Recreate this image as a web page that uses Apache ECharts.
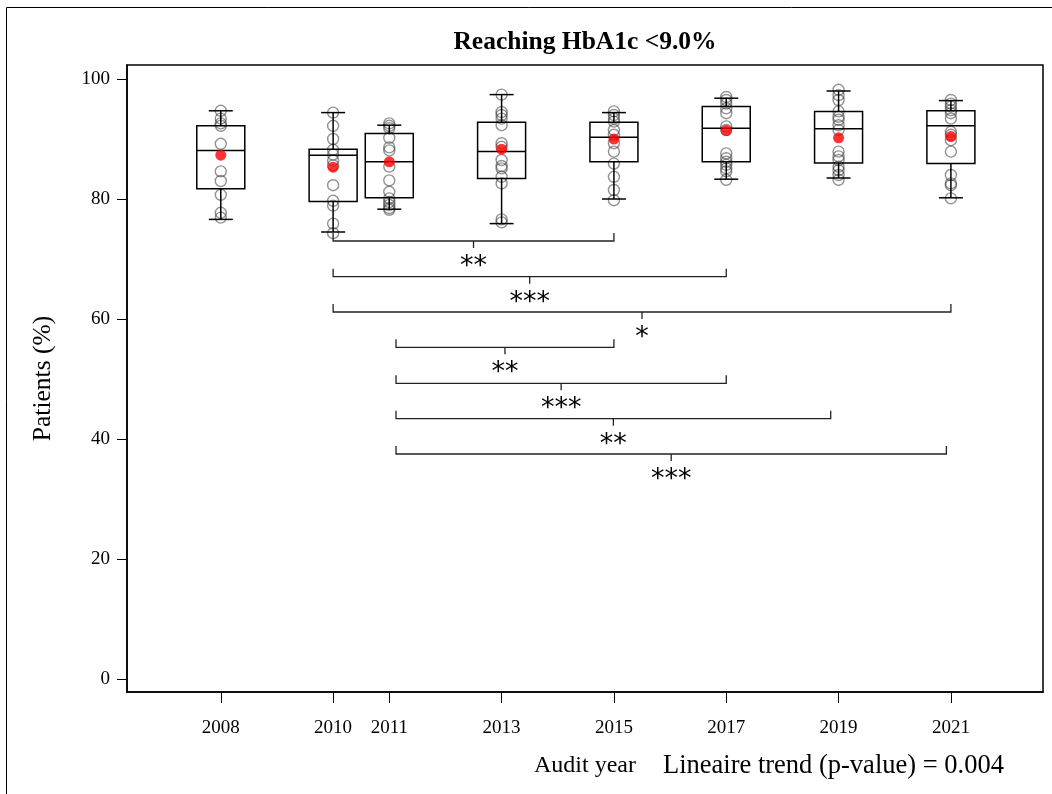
<!DOCTYPE html>
<html>
<head>
<meta charset="utf-8">
<script src="https://cdn.jsdelivr.net/npm/echarts@6/dist/echarts.min.js"></script>
<style>html,body{margin:0;padding:0;background:#fff}#chart{width:1052px;height:794px}</style>
</head>
<body>
<div id="chart"></div>
<script>
// ---- data ----
const years = [2008, 2010, 2011, 2013, 2015, 2017, 2019, 2021];
const whiskerLow  = [76.6, 74.5, 78.3, 75.9, 80.0, 83.3, 83.5, 80.2];
const quart1      = [81.7, 79.6, 80.2, 83.4, 86.2, 86.2, 86.0, 85.9];
const medians     = [88.1, 87.3, 86.2, 87.9, 90.3, 91.8, 91.7, 92.2];
const quart3      = [92.2, 88.3, 90.9, 92.8, 92.8, 95.4, 94.6, 94.7];
const whiskerHigh = [94.7, 94.4, 92.3, 97.4, 94.4, 96.8, 98.0, 96.4];
const means       = [87.3, 85.3, 86.2, 88.3, 90.0, 91.4, 90.2, 90.4];

const pts2008 = [94.7, 93.4, 92.6, 92.2, 89.2, 84.6, 83.0, 80.7, 77.7, 76.9];
const pts2010 = [94.4, 92.2, 90.0, 88.2, 87.4, 86.4, 85.6, 82.3, 79.7, 78.9, 75.9, 74.3];
const pts2011 = [92.6, 92.2, 91.8, 90.2, 88.6, 88.1, 85.4, 83.1, 81.2, 80.1, 79.5, 79.0, 78.5, 78.2];
const pts2013 = [97.4, 94.5, 94.0, 93.4, 92.3, 89.3, 88.7, 86.5, 85.5, 85.1, 83.7, 82.6, 76.6, 76.1];
const pts2015 = [94.6, 94.0, 93.4, 92.9, 91.5, 90.7, 89.3, 87.9, 85.9, 83.7, 81.5, 79.8];
const pts2017 = [97.0, 96.5, 95.9, 95.1, 94.3, 92.1, 91.5, 87.6, 86.8, 86.2, 85.7, 85.1, 84.6, 83.2];
const pts2019 = [98.2, 97.3, 96.5, 94.6, 93.7, 93.2, 92.3, 91.5, 87.9, 87.1, 86.5, 85.4, 84.8, 84.0, 83.2];
const pts2021 = [96.5, 95.9, 95.4, 94.8, 94.3, 93.4, 91.2, 90.7, 89.8, 87.9, 84.0, 82.6, 82.3, 80.1];
const pointsByYear = [pts2008, pts2010, pts2011, pts2013, pts2015, pts2017, pts2019, pts2021];

// significance brackets (from year, to year, height in %)
const bracketFrom  = [2010, 2010, 2010, 2011.12, 2011.12, 2011.12, 2011.12];
const bracketTo    = [2015, 2017, 2021, 2015, 2017, 2018.86, 2020.92];
const bracketLevel = [73.0, 67.05, 61.17, 55.28, 49.28, 43.38, 37.5];
const bracketStars = ['**', '***', '*', '**', '***', '**', '***'];

const yTicks = [0, 20, 40, 60, 80, 100];

const titleText = 'Reaching HbA1c <9.0%';
const xName = 'Audit year';
const yName = 'Patients (%)';
const trendText = 'Lineaire trend (p-value) = 0.004';

// ---- build ----
const serif = "'Liberation Serif', 'Times New Roman', serif";
const boxRows = years.map((y, i) => [y, whiskerLow[i], quart1[i], medians[i], quart3[i], whiskerHigh[i]]);
const pointRows = [];
years.forEach((y, i) => pointsByYear[i].forEach(v => pointRows.push([y, v])));
const meanRows = years.map((y, i) => [y, means[i]]);
const bracketRows = bracketFrom.map((f, i) => [f, bracketTo[i], bracketLevel[i]]);

const chart = echarts.init(document.getElementById('chart'), null, {renderer: 'canvas'});
const lineSt = {stroke: '#000', lineWidth: 1.5};

chart.setOption({
  animation: false,
  backgroundColor: '#fff',
  grid: {left: 127, top: 65, right: 9, bottom: 102, show: true, borderColor: '#000', borderWidth: 1.5, containLabel: false, outerBoundsMode: 'none'},
  xAxis: {
    type: 'value', min: 2006.33, max: 2022.64,
    name: xName, nameLocation: 'middle', nameGap: 62,
    nameTextStyle: {fontFamily: serif, fontSize: 24, color: '#000'},
    axisLine: {show: true, onZero: false, lineStyle: {color: '#000', width: 1.5}},
    axisTick: {show: true, inside: false, length: 11, customValues: years, lineStyle: {color: '#000', width: 1}},
    axisLabel: {customValues: years, formatter: v => String(Math.round(v)), fontFamily: serif, fontSize: 19, color: '#000', margin: 27},
    splitLine: {show: false}
  },
  yAxis: {
    type: 'value', min: -2.167, max: 102.333,
    name: yName, nameLocation: 'middle', nameGap: 71, nameRotate: 90,
    nameTextStyle: {fontFamily: serif, fontSize: 25.5, color: '#000'},
    axisLine: {show: true, onZero: false, lineStyle: {color: '#000', width: 1.5}},
    axisTick: {show: true, inside: false, length: 10, customValues: yTicks, lineStyle: {color: '#000', width: 1}},
    axisLabel: {customValues: yTicks, formatter: v => String(Math.round(v)), fontFamily: serif, fontSize: 19, color: '#000', margin: 17},
    splitLine: {show: false}
  },
  graphic: [
    {type: 'rect', silent: true, z: -10, shape: {x: 6.5, y: 7.5, width: 2000, height: 2000}, style: {fill: 'rgba(0,0,0,0)', stroke: '#000', lineWidth: 1}},
    {type: 'text', x: 585, y: 42, style: {text: titleText, font: 'bold 25.5px ' + serif, fill: '#000', align: 'center', verticalAlign: 'middle'}},
    {type: 'text', x: 663, y: 766, style: {text: trendText, font: '26.5px ' + serif, fill: '#000', align: 'left', verticalAlign: 'middle'}}
  ],
  series: [
    {
      type: 'scatter', data: pointRows, symbol: 'circle', symbolSize: 11, z: 2,
      itemStyle: {color: 'rgba(0,0,0,0)', borderColor: 'rgba(60,60,60,0.7)', borderWidth: 1.4},
      emphasis: {disabled: true}
    },
    {
      type: 'custom', data: boxRows, z: 3,
      encode: {x: 0, y: [1, 2, 3, 4, 5]},
      renderItem: function (params, api) {
        const x = api.value(0);
        const lo = api.coord([x, api.value(1)]);
        const b1 = api.coord([x, api.value(2)]);
        const md = api.coord([x, api.value(3)]);
        const b3 = api.coord([x, api.value(4)]);
        const hi = api.coord([x, api.value(5)]);
        const cx = lo[0], hw = 24, cw = 12;
        return {type: 'group', children: [
          {type: 'line', shape: {x1: cx, y1: hi[1], x2: cx, y2: b3[1]}, style: lineSt},
          {type: 'line', shape: {x1: cx, y1: b1[1], x2: cx, y2: lo[1]}, style: lineSt},
          {type: 'line', shape: {x1: cx - cw, y1: hi[1], x2: cx + cw, y2: hi[1]}, style: lineSt},
          {type: 'line', shape: {x1: cx - cw, y1: lo[1], x2: cx + cw, y2: lo[1]}, style: lineSt},
          {type: 'rect', shape: {x: cx - hw, y: b3[1], width: 2 * hw, height: b1[1] - b3[1]}, style: {stroke: '#000', lineWidth: 1.5, fill: 'rgba(0,0,0,0)'}},
          {type: 'line', shape: {x1: cx - hw, y1: md[1], x2: cx + hw, y2: md[1]}, style: lineSt}
        ]};
      }
    },
    {
      type: 'scatter', data: meanRows, symbol: 'circle', symbolSize: 11, z: 4,
      itemStyle: {color: '#ff0000', borderWidth: 0},
      emphasis: {disabled: true}
    },
    {
      type: 'custom', data: bracketRows, z: 5,
      encode: {x: [0, 1], y: 2},
      renderItem: function (params, api) {
        const p1 = api.coord([api.value(0), api.value(2)]);
        const p2 = api.coord([api.value(1), api.value(2)]);
        const y = p1[1];
        const mid = (p1[0] + p2[0]) / 2;
        const st = {stroke: '#222', lineWidth: 1.3, fill: null};
        return {type: 'group', children: [
          {type: 'polyline', shape: {points: [[p1[0], y - 8], [p1[0], y], [p2[0], y], [p2[0], y - 8]]}, style: st},
          {type: 'line', shape: {x1: mid, y1: y, x2: mid, y2: y + 7}, style: st},
          {type: 'text', x: mid, y: y + 26, style: {text: bracketStars[params.dataIndex], font: '27px "DejaVu Sans"', fill: '#000', align: 'center', verticalAlign: 'middle'}}
        ]};
      }
    }
  ]
});
</script>
</body>
</html>
